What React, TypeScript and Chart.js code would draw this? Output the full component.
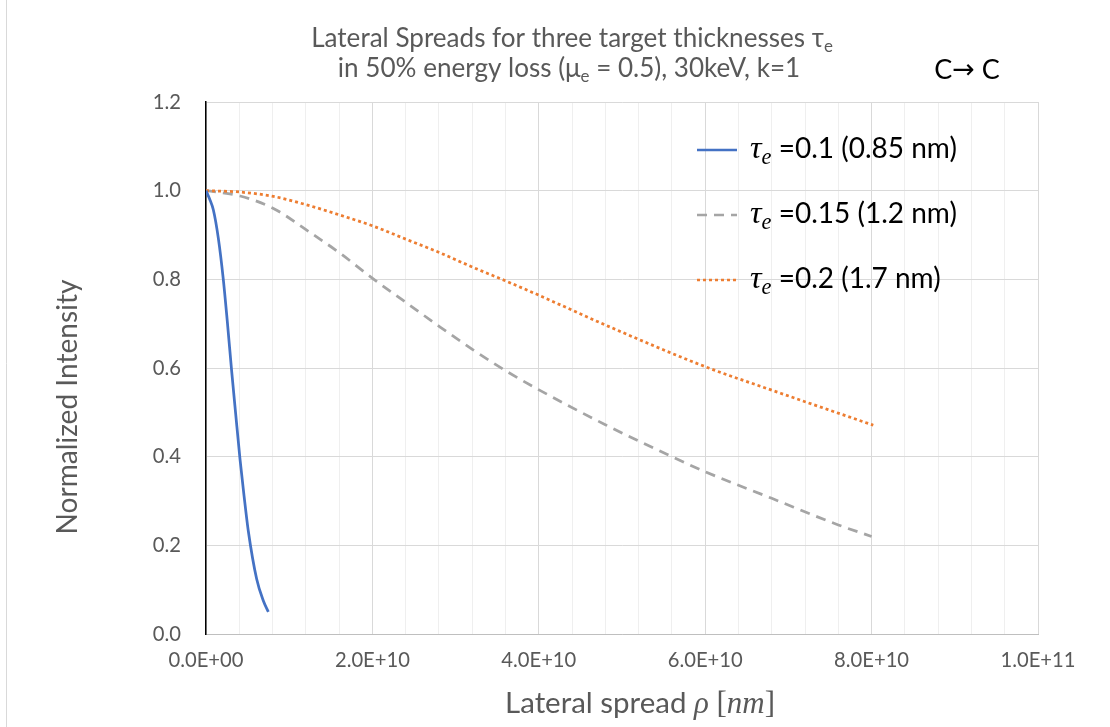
import React, { useEffect, useRef } from "react";
import { Chart, registerables } from "chart.js";

Chart.register(...registerables);

// ---------- data ----------
const blueX = [0, 0.48e9, 0.88e9, 1.48e9, 2.08e9, 2.56e9, 3.09e9, 3.57e9, 4.09e9, 4.57e9, 5.08e9, 6.09e9, 6.89e9, 7.49e9];
const blueY = [1.0, 0.979, 0.957, 0.893, 0.8, 0.705, 0.592, 0.496, 0.394, 0.312, 0.233, 0.124, 0.075, 0.05];

const grayX = [0, 4.09e9, 8.1e9, 1.21e10, 1.61e10, 2.01e10, 2.41e10, 2.81e10, 3.21e10, 3.61e10, 3.99e10, 4.8e10, 5.6e10, 6.0e10, 6.8e10, 7.6e10, 8.0e10];
const grayY = [1.0, 0.988, 0.96, 0.911, 0.859, 0.801, 0.747, 0.693, 0.641, 0.593, 0.552, 0.472, 0.4, 0.366, 0.306, 0.246, 0.22];

const orangeX = [0, 4.0e9, 8.1e9, 1.21e10, 1.61e10, 2.01e10, 2.41e10, 2.81e10, 3.21e10, 3.62e10, 3.99e10, 4.8e10, 6.0e10, 6.8e10, 8.02e10];
const orangeY = [1.0, 0.997, 0.987, 0.968, 0.945, 0.92, 0.89, 0.86, 0.827, 0.795, 0.765, 0.697, 0.603, 0.55, 0.471];

const seriesNames = ["=0.1 (0.85 nm)", "=0.15 (1.2 nm)", "=0.2 (1.7 nm)"];
const seriesColors = ["#4472C4", "#A5A5A5", "#ED7D31"];

const xMin = 0;
const xMax = 1e11;
const xMinorStep = 4e9;
const xMajorEvery = 5; // label every 5 minor steps (2E+10)
const yMin = 0;
const yMax = 1.2;
const yStep = 0.2;

const titleLine1 = "Lateral Spreads for three target thicknesses τ";
const titleLine2a = "in 50% energy loss (μ";
const titleLine2b = " = 0.5), 30keV, k=1";
const yTitle = "Normalized Intensity";
const xTitleText = "Lateral spread ";

// ---------- styling ----------
const SANS = "Lato, 'Open Sans', 'DejaVu Sans', sans-serif";
const SERIF = "'Liberation Serif', 'DejaVu Serif', serif";
const GREY_TEXT = "#595959";

type Seg = { t: string; fam: string; st?: string; k?: number; dy?: number };

function fontOf(s: Seg, size: number) {
  return `${s.st || ""} ${size * (s.k || 1)}px ${s.fam}`.trim();
}

function fitSize(ctx: CanvasRenderingContext2D, segs: Seg[], target: number) {
  let w = 0;
  for (const s of segs) {
    ctx.font = fontOf(s, 100);
    w += ctx.measureText(s.t).width;
  }
  return (100 * target) / w;
}

function drawSegs(
  ctx: CanvasRenderingContext2D,
  segs: Seg[],
  size: number,
  x: number,
  y: number,
  align: "left" | "center",
  color: string
) {
  const widths = segs.map((s) => {
    ctx.font = fontOf(s, size);
    return ctx.measureText(s.t).width;
  });
  const total = widths.reduce((a, b) => a + b, 0);
  let cx = align === "center" ? x - total / 2 : x;
  ctx.textAlign = "left";
  ctx.textBaseline = "alphabetic";
  ctx.fillStyle = color;
  segs.forEach((s, i) => {
    ctx.font = fontOf(s, size);
    ctx.fillText(s.t, cx, y + (s.dy || 0) * size);
    cx += widths[i];
  });
}

function fmtExp(v: number) {
  const s = Number(v).toExponential(1);
  const [m, e] = s.split("e");
  const sign = e[0] === "-" ? "-" : "+";
  const digits = e.replace(/[+-]/, "").padStart(2, "0");
  return `${m}E${sign}${digits}`;
}

function toPoints(xs: number[], ys: number[]) {
  return xs.map((x, i) => ({ x, y: ys[i] }));
}

const decorPlugin = {
  id: "decor",
  beforeDraw(chart: any) {
    const ctx = chart.ctx as CanvasRenderingContext2D;
    ctx.save();
    ctx.fillStyle = "#ffffff";
    ctx.fillRect(0, 0, chart.width, chart.height);
    ctx.restore();
  },
  afterDraw(chart: any) {
    const ctx = chart.ctx as CanvasRenderingContext2D;
    ctx.save();

    // chart outer border (left edge visible)
    ctx.strokeStyle = "#d9d9d9";
    ctx.lineWidth = 1;
    ctx.beginPath();
    ctx.moveTo(6.5, 0);
    ctx.lineTo(6.5, chart.height);
    ctx.stroke();

    // title
    const t1: Seg[] = [
      { t: titleLine1, fam: SANS },
      { t: "e", fam: SANS, k: 0.65, dy: 0.18 },
    ];
    const s1 = fitSize(ctx, t1, 522);
    drawSegs(ctx, t1, s1, 572, 47, "center", GREY_TEXT);
    const t2: Seg[] = [
      { t: titleLine2a, fam: SANS },
      { t: "e", fam: SANS, k: 0.65, dy: 0.18 },
      { t: titleLine2b, fam: SANS },
    ];
    drawSegs(ctx, t2, s1, 569, 77, "center", GREY_TEXT);

    // corner label  C→ C
    const c: Seg[] = [
      { t: "C", fam: SANS },
      { t: "→", fam: "'DejaVu Sans', sans-serif", k: 1.0, dy: -0.02 },
      { t: " C", fam: SANS },
    ];
    drawSegs(ctx, c, 27, 967, 79, "center", "#000000");

    // legend
    const legendYs = [150, 215, 280];
    const dashes = [[], [10, 7], [3, 3]];
    const mk = (name: string): Seg[] => [
      { t: "τ", fam: SERIF, st: "italic", k: 1.15 },
      { t: "e", fam: SERIF, st: "italic", k: 0.8, dy: 0.22 },
      { t: " " + name, fam: SANS },
    ];
    const ls = fitSize(ctx, mk(seriesNames[0]), 207);
    seriesNames.forEach((name, i) => {
      const y = legendYs[i];
      ctx.save();
      ctx.strokeStyle = seriesColors[i];
      ctx.lineWidth = 2.5;
      ctx.setLineDash(dashes[i]);
      ctx.beginPath();
      ctx.moveTo(697, y);
      ctx.lineTo(737, y);
      ctx.stroke();
      ctx.restore();
      drawSegs(ctx, mk(name), ls, 750, y + 8, "left", "#000000");
    });

    // x axis title
    const xt: Seg[] = [
      { t: xTitleText, fam: SANS },
      { t: "ρ", fam: SERIF, st: "italic", k: 1.05 },
      { t: " [", fam: SERIF, k: 1.05 },
      { t: "nm", fam: SERIF, st: "italic", k: 1.05 },
      { t: "]", fam: SERIF, k: 1.05 },
    ];
    const xs = fitSize(ctx, xt, 270);
    drawSegs(ctx, xt, xs, 640, 713, "center", GREY_TEXT);

    // y axis title
    const yt: Seg[] = [{ t: yTitle, fam: SANS }];
    const ys = fitSize(ctx, yt, 255);
    ctx.save();
    ctx.translate(77, 407);
    ctx.rotate(-Math.PI / 2);
    drawSegs(ctx, yt, ys, 0, 0, "center", GREY_TEXT);
    ctx.restore();

    ctx.restore();
  },
};

export default function App() {
  const canvasRef = useRef<HTMLCanvasElement | null>(null);

  useEffect(() => {
    const canvas = canvasRef.current;
    if (!canvas) return;

    const mctx = document.createElement("canvas").getContext("2d") as CanvasRenderingContext2D;
    const tickSize = fitSize(mctx, [{ t: "0.0E+00", fam: SANS }], 75);

    const chart = new Chart(canvas, {
      type: "line",
      data: {
        datasets: [
          {
            label: seriesNames[0],
            data: toPoints(blueX, blueY),
            borderColor: seriesColors[0],
            borderWidth: 2.75,
            pointRadius: 0,
            fill: false,
            cubicInterpolationMode: "monotone",
            order: 0,
          },
          {
            label: seriesNames[1],
            data: toPoints(grayX, grayY),
            borderColor: seriesColors[1],
            borderWidth: 2.75,
            borderDash: [10, 7],
            pointRadius: 0,
            fill: false,
            cubicInterpolationMode: "monotone",
            order: 2,
          },
          {
            label: seriesNames[2],
            data: toPoints(orangeX, orangeY),
            borderColor: seriesColors[2],
            borderWidth: 2.75,
            borderDash: [3, 3],
            pointRadius: 0,
            fill: false,
            cubicInterpolationMode: "monotone",
            order: 1,
          },
        ],
      },
      options: {
        animation: false,
        responsive: false,
        devicePixelRatio: 1,
        layout: { padding: { top: 102, right: 72, left: 0, bottom: 0 } },
        plugins: {
          legend: { display: false },
          title: { display: false },
          tooltip: { enabled: false },
        },
        scales: {
          x: {
            type: "linear",
            min: xMin,
            max: xMax,
            afterFit: (s: any) => {
              s.height = 93;
            },
            afterBuildTicks: (s: any) => {
              const n = Math.round((xMax - xMin) / xMinorStep);
              const arr = [];
              for (let i = 0; i <= n; i++) arr.push({ value: xMin + i * xMinorStep });
              s.ticks = arr;
            },
            ticks: {
              autoSkip: false,
              maxRotation: 0,
              padding: 14,
              color: GREY_TEXT,
              font: { family: SANS, size: tickSize },
              callback: (v: any) =>
                Math.round(Number(v) / xMinorStep) % xMajorEvery === 0 ? fmtExp(Number(v)) : "",
            },
            grid: {
              drawTicks: false,
              lineWidth: 1,
              color: (c: any) =>
                Math.round(c.tick.value / xMinorStep) % xMajorEvery === 0 ? "#d9d9d9" : "#efefef",
            },
            border: { color: "#bfbfbf", width: 1 },
          },
          y: {
            type: "linear",
            min: yMin,
            max: yMax,
            afterFit: (s: any) => {
              s.width = 206;
            },
            ticks: {
              stepSize: yStep,
              padding: 25,
              color: GREY_TEXT,
              font: { family: SANS, size: tickSize },
              callback: (v: any) => Number(v).toFixed(1),
            },
            grid: { drawTicks: false, color: "#d9d9d9", lineWidth: 1 },
            border: { color: "#000000", width: 1.5 },
          },
        },
      },
      plugins: [decorPlugin],
    } as any);

    return () => chart.destroy();
  }, []);

  return (
    <div style={{ position: "absolute", left: 0, top: 0, width: 1110, height: 727, background: "#fff" }}>
      <canvas ref={canvasRef} width={1110} height={727} style={{ display: "block" }} />
    </div>
  );
}
